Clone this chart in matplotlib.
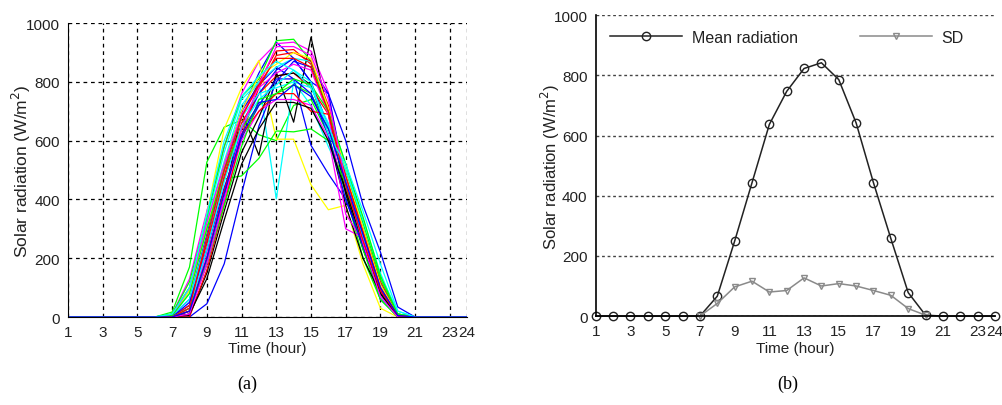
import matplotlib.pyplot as plt

# hours on the x axis
hours = list(range(1, 25))
xticks = [1, 3, 5, 7, 9, 11, 13, 15, 17, 19, 21, 23, 24]

# night hours (all zero radiation)
night_am = [0, 0, 0, 0, 0]          # hours 1-5
night_pm = [0, 0, 0]                # hours 22-24

# matlab-style line colours
mcol = {'b': '#0000ff', 'g': '#00ff00', 'r': '#ff0000', 'c': '#00ffff',
        'm': '#ff00ff', 'y': '#ffff00', 'k': '#000000'}

# daily curves, values for hours 6..21 (W/m2)
days = [
    ([0, 5, 60, 280, 520, 700, 830, 935, 880, 800, 650, 470, 280, 90, 5, 0], 'b'),
    ([0, 17, 170, 527, 646, 670, 620, 600, 720, 740, 620, 420, 200, 60, 0, 0], 'g'),
    ([0, 0, 10, 230, 480, 680, 800, 905, 910, 860, 700, 430, 250, 80, 5, 0], 'r'),
    ([0, 5, 80, 330, 560, 740, 800, 402, 800, 720, 580, 450, 300, 120, 10, 0], 'c'),
    ([0, 10, 130, 360, 580, 760, 870, 930, 935, 905, 765, 440, 270, 100, 10, 0], 'm'),
    ([0, 5, 100, 350, 640, 780, 873, 605, 605, 450, 365, 380, 180, 30, 0, 0], 'y'),
    ([0, 0, 20, 180, 400, 700, 550, 833, 663, 952, 690, 420, 230, 80, 5, 0], 'k'),
    ([0, 0, 40, 260, 500, 700, 790, 850, 810, 584, 487, 400, 250, 60, 5, 0], 'b'),
    ([0, 0, 0, 45, 181, 420, 650, 800, 870, 850, 760, 600, 380, 221, 34, 0], 'b'),
    ([0, 10, 100, 300, 470, 480, 540, 633, 630, 640, 600, 450, 250, 70, 0, 0], 'g'),
    ([0, 0, 40, 250, 470, 660, 760, 820, 830, 780, 690, 460, 260, 90, 5, 0], 'r'),
    ([0, 10, 90, 320, 530, 720, 800, 850, 880, 870, 700, 520, 320, 140, 20, 0], 'c'),
    ([0, 0, 30, 220, 400, 600, 700, 740, 740, 720, 610, 300, 270, 80, 5, 0], 'm'),
    ([0, 10, 120, 340, 580, 750, 810, 940, 945, 870, 700, 450, 230, 60, 0, 0], 'g'),
    ([0, 0, 5, 150, 360, 560, 680, 820, 830, 790, 620, 380, 200, 80, 5, 0], 'k'),
    ([0, 0, 20, 200, 430, 640, 760, 840, 880, 800, 760, 460, 280, 110, 10, 0], 'b'),
    ([0, 0, 0, 160, 380, 620, 780, 890, 900, 870, 720, 480, 300, 120, 10, 0], 'r'),
    ([0, 5, 90, 300, 520, 700, 820, 860, 900, 880, 710, 500, 300, 110, 5, 0], 'y'),
    ([0, 5, 60, 270, 500, 680, 760, 780, 800, 780, 660, 470, 270, 70, 0, 0], 'c'),
    ([0, 5, 100, 320, 520, 690, 780, 830, 860, 840, 690, 350, 260, 90, 5, 0], 'm'),
    ([0, 5, 80, 300, 500, 640, 720, 760, 790, 760, 640, 500, 320, 130, 10, 0], 'g'),
    ([0, 0, 50, 230, 440, 610, 720, 810, 810, 760, 620, 400, 240, 90, 5, 0], 'b'),
    ([0, 0, 20, 200, 430, 620, 700, 760, 760, 700, 690, 480, 290, 100, 5, 0], 'r'),
    ([0, 0, 10, 130, 330, 520, 640, 730, 730, 710, 600, 430, 250, 80, 0, 0], 'k'),
    ([0, 0, 30, 230, 460, 650, 740, 790, 840, 780, 650, 500, 330, 150, 10, 0], 'c'),
    ([0, 0, 30, 180, 380, 580, 740, 760, 810, 790, 700, 520, 340, 140, 10, 0], 'g'),
    ([0, 0, 10, 180, 400, 640, 790, 920, 920, 890, 740, 460, 250, 70, 0, 0], 'm'),
    ([0, 0, 30, 270, 500, 680, 790, 880, 880, 850, 700, 450, 260, 90, 5, 0], 'r'),
    ([0, 10, 100, 350, 600, 750, 820, 870, 840, 800, 620, 520, 360, 180, 20, 0], 'c'),
    ([0, 0, 20, 200, 420, 620, 730, 740, 790, 750, 640, 460, 280, 100, 5, 0], 'b'),
]

# mean radiation and standard deviation (panel b)
mean_rad = [0, 0, 0, 0, 0, 0, 0, 66, 249, 443, 637, 747, 823, 842,
            786, 642, 443, 258, 78, 3, 0, 0, 0, 0]
sd_hours = list(range(7, 21))
sd_vals = [0, 42, 97, 116, 80, 85, 127, 100, 108, 100, 85, 69, 25, 3]

plt.rcParams['font.family'] = ['Liberation Sans', 'DejaVu Sans']
txt = '#222222'

fig = plt.figure(figsize=(10.03, 4.06), dpi=100)

# ---- panel (a)
ax1 = fig.add_axes([0.0678, 0.2167, 0.398, 0.724])
for vals, col in days:
    ax1.plot(hours, night_am + vals + night_pm, color=mcol[col], lw=0.9)
ax1.set_xlim(1, 24)
ax1.set_ylim(0, 1000)
ax1.set_xticks(xticks)
ax1.set_yticks(range(0, 1001, 200))
ax1.grid(True, color='black', linestyle=(0, (3, 3)), lw=0.9)
ax1.spines['top'].set_visible(False)
ax1.spines['right'].set_visible(False)
ax1.tick_params(length=0, labelsize=11, labelcolor=txt, pad=6)
ax1.set_xlabel('Time (hour)', fontsize=11, color=txt, labelpad=1)
ax1.set_ylabel('Solar radiation (W/m$^2$)', fontsize=12.5, color=txt, labelpad=-5)

# ---- panel (b)
ax2 = fig.add_axes([0.594, 0.219, 0.398, 0.741])
ax2.plot(hours, mean_rad, color='#222222', lw=1.1, marker='o', ms=6,
         mfc='none', mec='#222222', mew=1.0, label='Mean radiation', clip_on=False)
ax2.plot(sd_hours, sd_vals, color='#8a8a8a', lw=1.1, marker='v', ms=5,
         mfc='none', mec='#8a8a8a', mew=1.0, label='SD', clip_on=False)
ax2.set_xlim(1, 24)
ax2.set_ylim(0, 1000)
ax2.set_xticks(xticks)
ax2.set_yticks(range(0, 1001, 200))
ax2.yaxis.grid(True, color='#444444', linestyle=(0, (2, 2)), lw=1.0)
ax2.spines['top'].set_visible(False)
ax2.spines['right'].set_visible(False)
ax2.spines['left'].set_linewidth(1.2)
ax2.spines['bottom'].set_linewidth(1.2)
ax2.tick_params(length=0, labelsize=11, labelcolor=txt, pad=6)
ax2.set_xlabel('Time (hour)', fontsize=11, color=txt, labelpad=2)
ax2.set_ylabel('Solar radiation (W/m$^2$)', fontsize=12, color=txt, labelpad=-6)
ax2.legend(loc='upper left', bbox_to_anchor=(0.0, 1.0), ncol=2, frameon=False,
           fontsize=11.5, handlelength=4.5, columnspacing=3.9, handletextpad=0.6,
           labelcolor=txt)

# captions
fig.text(0.2465, 0.032, '(a)', ha='center', va='bottom', fontsize=13,
         family=['Liberation Serif', 'DejaVu Serif'])
fig.text(0.785, 0.032, '(b)', ha='center', va='bottom', fontsize=13,
         family=['Liberation Serif', 'DejaVu Serif'])

fig.savefig('out.png', dpi=100)
